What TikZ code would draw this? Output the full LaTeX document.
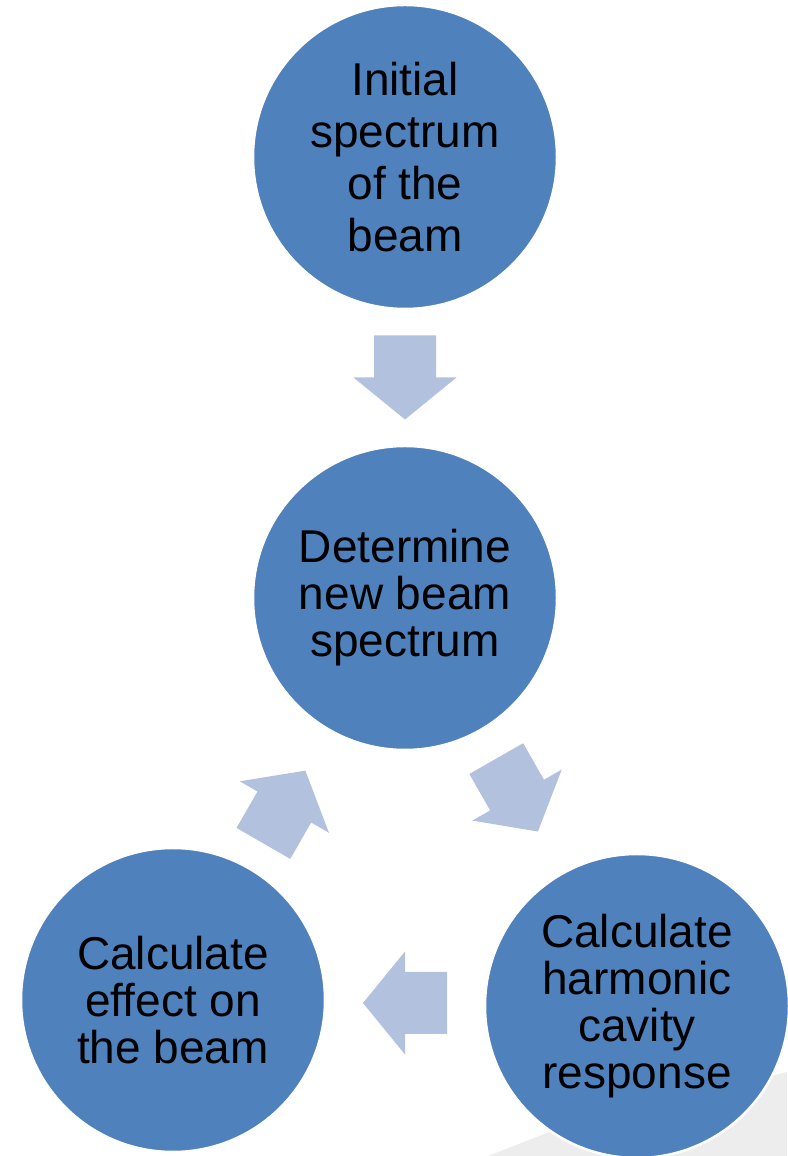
\documentclass[tikz,border=0pt]{standalone}
\usepackage{fontspec}
\setmainfont{Liberation Sans}
\usepackage{tikz}
\usetikzlibrary{calc,positioning}
\definecolor{stepblue}{HTML}{4F81BD}
\definecolor{arrowfill}{HTML}{B2C1DD}
\definecolor{shadegray}{HTML}{EDEDED}
\newcommand{\blockarrow}[2]{\begin{scope}[shift={(#1)},rotate=#2]\fill[arrowfill] (-42,-31)--(0,-31)--(0,-51.5)--(42,0)--(0,51.5)--(0,31)--(-42,31)--cycle;\end{scope}}
\tikzset{stepcircle/.style={circle,fill=stepblue,draw=white,line width=2.5pt,minimum size=304pt,inner sep=0pt,align=center,text=black,font=\fontsize{46}{47}\selectfont}}

\begin{document}
\begin{tikzpicture}[x=1pt,y=1pt]
\useasboundingbox (0,0) rectangle (787,1156);
\fill[shadegray] (488,0)--(552,25)--(787,84)--(787,0)--cycle;
\node[stepcircle,font=\fontsize{46}{52}\selectfont] (init) at (405,999) {Initial\\spectrum\\of the\\beam};
\node[stepcircle] (determine) at (405,558) {Determine\\new beam\\spectrum};
\node[stepcircle] (effect) at (173,156) {Calculate\\effect on\\the beam};
\node[stepcircle] (cavity) at (637,150) {Calculate\\harmonic\\cavity\\response};
\blockarrow{$(init)!0.5!(determine)$}{-90}
\blockarrow{$(determine)!0.483!(cavity)$}{-60.3}
\blockarrow{$(cavity)!0.5!(effect)$}{180}
\blockarrow{$(effect)!0.48!(determine)$}{60}
\end{tikzpicture}
\end{document}
